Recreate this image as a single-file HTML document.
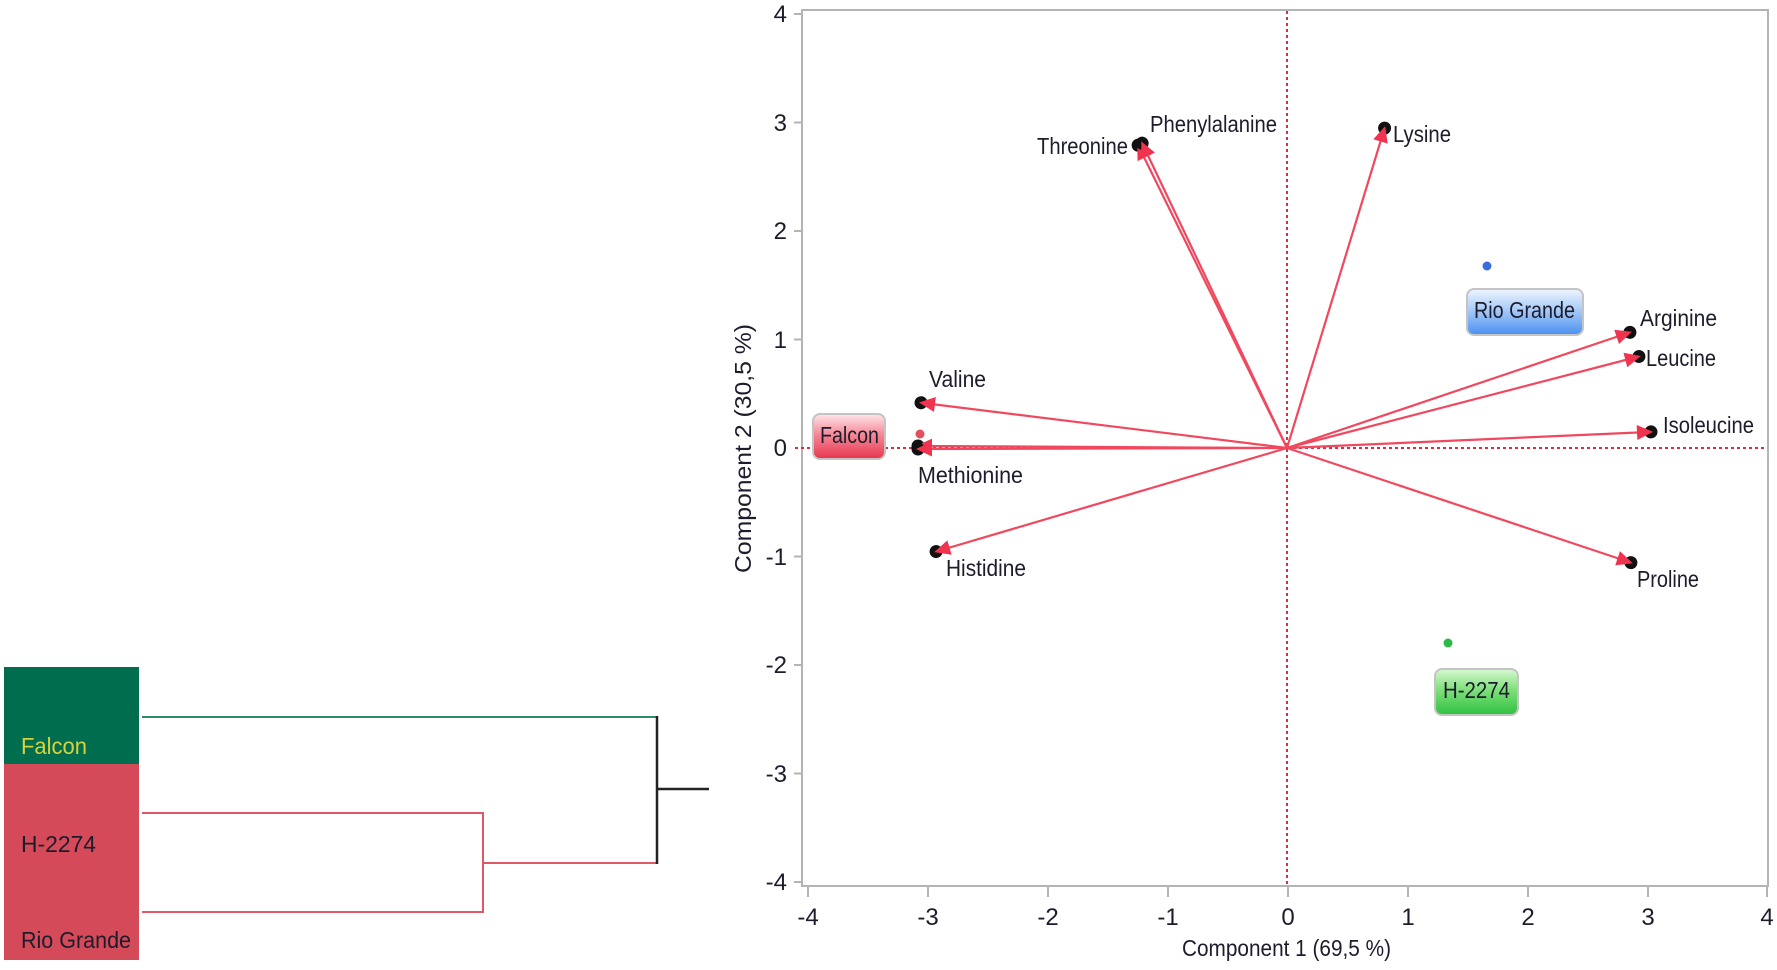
<!DOCTYPE html>
<html><head><meta charset="utf-8"><style>
html,body{margin:0;padding:0;background:#fff;}
svg{display:block;}
text{font-family:"Liberation Sans",sans-serif;fill:#1c1c2c;}
</style></head><body>
<svg width="1777" height="970" viewBox="0 0 1777 970" xmlns="http://www.w3.org/2000/svg">
<defs>
<linearGradient id="gR" x1="0" y1="0" x2="0" y2="1">
<stop offset="0" stop-color="#ffe6ea"/><stop offset="0.45" stop-color="#f58a98"/><stop offset="1" stop-color="#e8344e"/></linearGradient>
<linearGradient id="gB" x1="0" y1="0" x2="0" y2="1">
<stop offset="0" stop-color="#eef5ff"/><stop offset="0.45" stop-color="#a8cbf8"/><stop offset="1" stop-color="#4a8ff0"/></linearGradient>
<linearGradient id="gG" x1="0" y1="0" x2="0" y2="1">
<stop offset="0" stop-color="#d8f8d2"/><stop offset="0.45" stop-color="#7ee07a"/><stop offset="1" stop-color="#2fc040"/></linearGradient>
<marker id="ah" markerUnits="userSpaceOnUse" markerWidth="40" markerHeight="40" viewBox="-20 -20 40 40" refX="0" refY="0" orient="auto" overflow="visible">
<circle cx="2" cy="0" r="6.5" fill="#111"/>
<polygon points="4,0 -12,-7.5 -12,7.5" fill="#f0334e"/>
</marker>
</defs>

<!-- Dendrogram -->
<rect x="4" y="667" width="135" height="97" fill="#006e4e"/>
<rect x="4" y="764" width="135" height="196" fill="#d44a58"/>
<text x="21" y="754" font-size="23" textLength="66" lengthAdjust="spacingAndGlyphs" style="fill:#d8d23a">Falcon</text>
<text x="21" y="852" font-size="23" textLength="75" lengthAdjust="spacingAndGlyphs">H-2274</text>
<text x="21" y="948" font-size="23" textLength="110" lengthAdjust="spacingAndGlyphs">Rio Grande</text>
<line x1="142" y1="717" x2="657" y2="717" stroke="#2e8a6a" stroke-width="2"/>
<line x1="142" y1="813" x2="483" y2="813" stroke="#e05868" stroke-width="2"/>
<line x1="142" y1="912" x2="483" y2="912" stroke="#e05868" stroke-width="2"/>
<line x1="483" y1="812" x2="483" y2="913" stroke="#e05868" stroke-width="2"/>
<line x1="483" y1="863" x2="657" y2="863" stroke="#e05868" stroke-width="2"/>
<line x1="657" y1="716" x2="657" y2="864" stroke="#222" stroke-width="2.5"/>
<line x1="657" y1="789" x2="709" y2="789" stroke="#222" stroke-width="2.5"/>

<!-- Plot frame -->
<rect x="802" y="10" width="966" height="876" fill="none" stroke="#b4b4b4" stroke-width="2"/>

<!-- Y ticks -->
<g stroke="#b4b4b4" stroke-width="2">
<line x1="794" y1="14" x2="802" y2="14"/>
<line x1="794" y1="122.5" x2="802" y2="122.5"/>
<line x1="794" y1="231" x2="802" y2="231"/>
<line x1="794" y1="339.5" x2="802" y2="339.5"/>
<line x1="794" y1="556.5" x2="802" y2="556.5"/>
<line x1="794" y1="665" x2="802" y2="665"/>
<line x1="794" y1="773.5" x2="802" y2="773.5"/>
<line x1="794" y1="882" x2="802" y2="882"/>
</g>
<g font-size="24" text-anchor="end">
<text x="787" y="22">4</text>
<text x="787" y="131">3</text>
<text x="787" y="239">2</text>
<text x="787" y="348">1</text>
<text x="787" y="456">0</text>
<text x="787" y="565">-1</text>
<text x="787" y="673">-2</text>
<text x="787" y="782">-3</text>
<text x="787" y="890">-4</text>
</g>

<!-- X ticks -->
<g stroke="#b4b4b4" stroke-width="2">
<line x1="808" y1="886" x2="808" y2="897"/>
<line x1="928" y1="886" x2="928" y2="897"/>
<line x1="1048" y1="886" x2="1048" y2="897"/>
<line x1="1168" y1="886" x2="1168" y2="897"/>
<line x1="1288" y1="886" x2="1288" y2="897"/>
<line x1="1408" y1="886" x2="1408" y2="897"/>
<line x1="1528" y1="886" x2="1528" y2="897"/>
<line x1="1648" y1="886" x2="1648" y2="897"/>
<line x1="1767" y1="886" x2="1767" y2="897"/>
</g>
<g font-size="24" text-anchor="middle">
<text x="808" y="925">-4</text>
<text x="928" y="925">-3</text>
<text x="1048" y="925">-2</text>
<text x="1168" y="925">-1</text>
<text x="1288" y="925">0</text>
<text x="1408" y="925">1</text>
<text x="1528" y="925">2</text>
<text x="1648" y="925">3</text>
<text x="1767" y="925">4</text>
</g>

<!-- Axis titles -->
<text x="1182" y="956" font-size="23" textLength="209" lengthAdjust="spacingAndGlyphs">Component 1  (69,5 %)</text>
<text transform="translate(751,573) rotate(-90)" x="0" y="0" font-size="23" textLength="249" lengthAdjust="spacingAndGlyphs">Component 2  (30,5 %)</text>

<!-- Dotted reference lines -->
<line x1="1287" y1="11" x2="1287" y2="885" stroke="#e8283e" stroke-width="2" stroke-dasharray="3,3"/>
<line x1="795" y1="448" x2="1767" y2="448" stroke="#e8283e" stroke-width="2" stroke-dasharray="3,3"/>

<!-- Arrows -->
<g stroke="#f0485e" stroke-width="2.2" fill="none" marker-end="url(#ah)">
<line x1="1287" y1="448" x2="1139" y2="147"/>
<line x1="1287" y1="448" x2="1143" y2="145"/>
<line x1="1287" y1="448" x2="1384" y2="130"/>
<line x1="1287" y1="448" x2="1628" y2="333"/>
<line x1="1287" y1="448" x2="1637" y2="357"/>
<line x1="1287" y1="448" x2="1649" y2="432"/>
<line x1="1287" y1="448" x2="1629" y2="562"/>
<line x1="1287" y1="448" x2="923" y2="403"/>
<line x1="1287" y1="448" x2="920" y2="446"/>
<line x1="1287" y1="448" x2="920" y2="449"/>
<line x1="1287" y1="448" x2="938" y2="551"/>
</g>

<!-- observation points -->
<circle cx="1487" cy="266" r="4.5" fill="#3a6fd8"/>
<circle cx="1448" cy="643" r="4.5" fill="#2db84a"/>
<circle cx="920" cy="434" r="4.5" fill="#e2505e"/>

<!-- Variable labels -->
<g font-size="23">
<text x="1037" y="154" textLength="91" lengthAdjust="spacingAndGlyphs">Threonine</text>
<text x="1150" y="132" textLength="127" lengthAdjust="spacingAndGlyphs">Phenylalanine</text>
<text x="1393" y="142" textLength="58" lengthAdjust="spacingAndGlyphs">Lysine</text>
<text x="1640" y="326" textLength="77" lengthAdjust="spacingAndGlyphs">Arginine</text>
<text x="1646" y="366" textLength="70" lengthAdjust="spacingAndGlyphs">Leucine</text>
<text x="1663" y="433" textLength="91" lengthAdjust="spacingAndGlyphs">Isoleucine</text>
<text x="1637" y="587" textLength="62" lengthAdjust="spacingAndGlyphs">Proline</text>
<text x="929" y="387" textLength="57" lengthAdjust="spacingAndGlyphs">Valine</text>
<text x="918" y="483" textLength="105" lengthAdjust="spacingAndGlyphs">Methionine</text>
<text x="946" y="576" textLength="80" lengthAdjust="spacingAndGlyphs">Histidine</text>
</g>

<!-- Group label boxes -->
<rect x="813" y="414" width="72" height="45" rx="7" fill="url(#gR)" stroke="#c4c4c4" stroke-width="2"/>
<text x="820" y="443" font-size="23" textLength="59" lengthAdjust="spacingAndGlyphs">Falcon</text>
<rect x="1467" y="289" width="116" height="46" rx="7" fill="url(#gB)" stroke="#c4c4c4" stroke-width="2"/>
<text x="1474" y="318" font-size="23" textLength="101" lengthAdjust="spacingAndGlyphs">Rio Grande</text>
<rect x="1435" y="669" width="83" height="46" rx="7" fill="url(#gG)" stroke="#c4c4c4" stroke-width="2"/>
<text x="1443" y="698" font-size="23" textLength="67" lengthAdjust="spacingAndGlyphs">H-2274</text>
</svg>
</body></html>
